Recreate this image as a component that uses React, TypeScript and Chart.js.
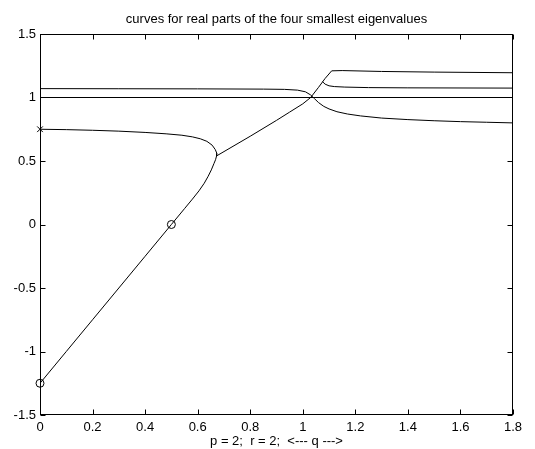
import React, { useEffect, useRef } from 'react';
import { Chart, registerables } from 'chart.js';

Chart.register(...registerables);

// ---- data ----
const titleText = 'curves for real parts of the four smallest eigenvalues';
const xLabelText = 'p = 2;  r = 2;  <--- q --->';

const xTickMin = 0;
const xTickMax = 1.8;
const xTickStep = 0.2;
const yTickMin = -1.5;
const yTickMax = 1.5;
const yTickStep = 0.5;

// branch starting at -1.25, merging at the junction, then the real part of the pair rising to the top line
const risingX = [0, 0.1, 0.2, 0.3, 0.4, 0.5, 0.55, 0.58, 0.605, 0.625, 0.64, 0.652, 0.662, 0.668, 0.672, 0.8, 0.9, 0.95, 1.0, 1.03, 1.06, 1.085, 1.11, 1.15, 1.3, 1.5, 1.8];
const risingY = [-1.25, -1.0, -0.75, -0.5, -0.25, 0, 0.125, 0.2, 0.265, 0.325, 0.38, 0.43, 0.48, 0.51, 0.54, 0.695, 0.82, 0.885, 0.95, 1.0, 1.08, 1.15, 1.21, 1.212, 1.205, 1.2, 1.195];

// branch starting at 0.75 (cross marker) bending down to the junction
const crossBranchX = [0, 0.1, 0.2, 0.3, 0.4, 0.48, 0.54, 0.58, 0.61, 0.635, 0.655, 0.667, 0.673, 0.672];
const crossBranchY = [0.75, 0.747, 0.742, 0.735, 0.725, 0.714, 0.703, 0.69, 0.675, 0.655, 0.625, 0.59, 0.56, 0.54];

// flat line near 1
const flatX = [0, 1.8];
const flatY = [1.0, 1.0];

// line near 1.07 that falls after the crossing
const fallingX = [0, 0.3, 0.6, 0.85, 0.93, 0.98, 1.01, 1.03, 1.045, 1.06, 1.08, 1.1, 1.13, 1.17, 1.22, 1.3, 1.4, 1.5, 1.6, 1.7, 1.8];
const fallingY = [1.07, 1.069, 1.068, 1.066, 1.064, 1.058, 1.045, 1.02, 0.99, 0.96, 0.93, 0.91, 0.888, 0.87, 0.855, 0.838, 0.826, 0.817, 0.81, 0.805, 0.8];

// branch leaving the rising line near 1.08 and settling near 1.075
const branchX = [1.075, 1.085, 1.1, 1.12, 1.16, 1.25, 1.4, 1.8];
const branchY = [1.125, 1.105, 1.092, 1.086, 1.082, 1.078, 1.076, 1.074];

// markers
const circleX = [0, 0.5];
const circleY = [-1.25, 0];
const crossX = [0];
const crossY = [0.75];

const FONT = '"Liberation Sans", Arial, Helvetica, sans-serif';

function pts(xs: number[], ys: number[]) {
  return xs.map((x, i) => ({ x, y: ys[i] }));
}

function fmt(v: number) {
  return String(Math.round(v * 10) / 10);
}

const framePlugin = {
  id: 'matlabFrame',
  beforeDatasetsDraw(chart: any) {
    const { ctx, chartArea } = chart;
    const l = Math.round(chartArea.left) + 0.5;
    const r = Math.round(chartArea.right) - 0.5;
    const t = Math.round(chartArea.top) + 0.5;
    const b = Math.round(chartArea.bottom) - 0.5;
    ctx.save();
    ctx.strokeStyle = '#000';
    ctx.lineWidth = 1;
    ctx.strokeRect(l, t, r - l, b - t);
    const tl = 5;
    const xs = chart.scales.x;
    const ys = chart.scales.y;
    ctx.beginPath();
    xs.ticks.forEach((tk: any) => {
      const px = Math.round(xs.getPixelForValue(tk.value)) + 0.5;
      ctx.moveTo(px, b);
      ctx.lineTo(px, b - tl);
      ctx.moveTo(px, t);
      ctx.lineTo(px, t + tl);
    });
    ys.ticks.forEach((tk: any) => {
      const py = Math.round(ys.getPixelForValue(tk.value)) + 0.5;
      ctx.moveTo(l, py);
      ctx.lineTo(l + tl, py);
      ctx.moveTo(r, py);
      ctx.lineTo(r - tl, py);
    });
    ctx.stroke();
    ctx.restore();
  },
  afterDraw(chart: any) {
    const { ctx, chartArea } = chart;
    ctx.save();
    ctx.fillStyle = '#000';
    ctx.font = '13px ' + FONT;
    ctx.textAlign = 'center';
    ctx.textBaseline = 'middle';
    ctx.fillText(titleText, (chartArea.left + chartArea.right) / 2, 19.5);
    ctx.restore();
  },
};

export default function App() {
  const ref = useRef<HTMLCanvasElement | null>(null);

  useEffect(() => {
    if (!ref.current) return;
    const lineDs = (xs: number[], ys: number[]) => ({
      data: pts(xs, ys),
      showLine: true,
      borderColor: '#000',
      borderWidth: 1,
      pointRadius: 0,
      tension: 0,
      fill: false,
    });
    const chart = new Chart(ref.current, {
      type: 'scatter',
      data: {
        datasets: [
          lineDs(risingX, risingY),
          lineDs(crossBranchX, crossBranchY),
          lineDs(flatX, flatY),
          lineDs(fallingX, fallingY),
          lineDs(branchX, branchY),
          {
            data: pts(circleX, circleY),
            showLine: false,
            pointStyle: 'circle',
            pointRadius: 4,
            pointBorderColor: '#000',
            pointBackgroundColor: 'rgba(0,0,0,0)',
            pointBorderWidth: 1,
            clip: false,
          } as any,
          {
            data: pts(crossX, crossY),
            showLine: false,
            pointStyle: 'crossRot',
            pointRadius: 4,
            pointBorderColor: '#000',
            pointBorderWidth: 1,
            clip: false,
          } as any,
        ],
      },
      options: {
        animation: false,
        responsive: false,
        devicePixelRatio: 1,
        layout: { padding: { left: 0, right: 22, top: 34, bottom: 0 } },
        plugins: {
          legend: { display: false },
          title: { display: false },
          tooltip: { enabled: false },
        },
        scales: {
          x: {
            type: 'linear',
            min: xTickMin,
            max: xTickMax,
            grid: { display: false, drawTicks: false },
            border: { display: false },
            ticks: {
              stepSize: xTickStep,
              color: '#000',
              font: { size: 13, family: FONT },
              padding: 5,
              maxRotation: 0,
              autoSkip: false,
              callback: (v: any) => fmt(Number(v)),
            },
            title: {
              display: true,
              text: xLabelText,
              color: '#000',
              font: { size: 13, family: FONT },
              padding: 0,
            },
            afterFit: (s: any) => {
              s.height = 34;
            },
          },
          y: {
            type: 'linear',
            min: yTickMin,
            max: yTickMax,
            grid: { display: false, drawTicks: false },
            border: { display: false },
            ticks: {
              stepSize: yTickStep,
              color: '#000',
              font: { size: 13, family: FONT },
              padding: 4,
              autoSkip: false,
              callback: (v: any) => fmt(Number(v)),
            },
            afterFit: (s: any) => {
              s.width = 40;
            },
          },
        },
      },
      plugins: [framePlugin],
    });
    return () => chart.destroy();
  }, []);

  return (
    <div style={{ position: 'fixed', left: 0, top: 0, width: 535, height: 449, background: '#fff' }}>
      <canvas ref={ref} width={535} height={449} style={{ width: 535, height: 449, display: 'block' }} />
    </div>
  );
}
